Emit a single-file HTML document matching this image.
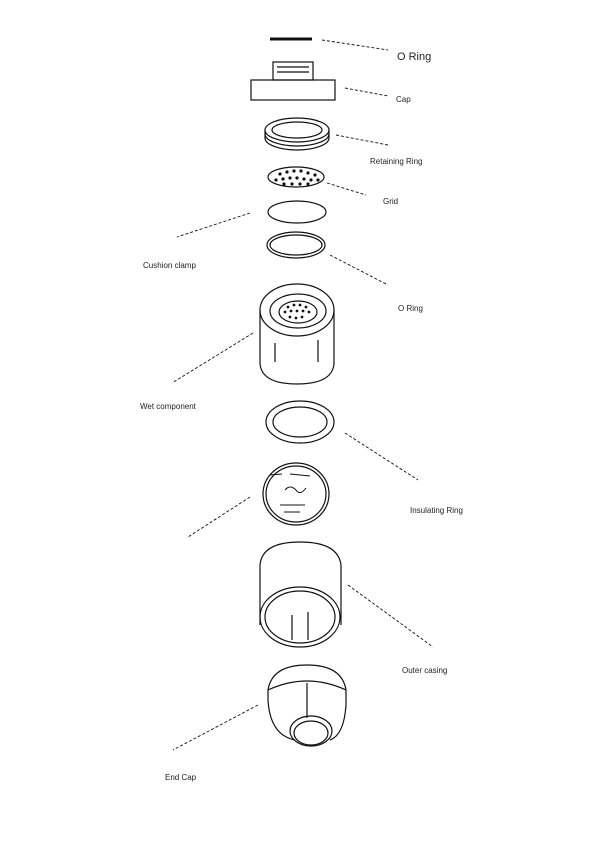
<!DOCTYPE html>
<html><head><style>
html,body{margin:0;padding:0;background:#fff;}
svg{display:block;}
text{font-family:"Liberation Sans",sans-serif;fill:#222;}
</style></head><body>
<svg width="612" height="842" viewBox="0 0 612 842" xmlns="http://www.w3.org/2000/svg">
<g fill="none" stroke="#111" stroke-width="1.2">
<line x1="270" y1="39" x2="312" y2="39" stroke-width="3"/>
<rect x="273" y="62" width="40" height="18"/>
<line x1="277" y1="67" x2="309" y2="67"/>
<line x1="277" y1="72" x2="309" y2="72"/>
<rect x="251" y="80" width="84" height="20"/>
<ellipse cx="297" cy="130" rx="32" ry="12"/>
<ellipse cx="297" cy="130" rx="25" ry="8"/>
<path d="M265 130 L265 138 A32 12 0 0 0 329 138 L329 130"/>
<path d="M265 134 A32 12 0 0 0 329 134"/>
<ellipse cx="296" cy="177" rx="28" ry="10"/>
<ellipse cx="297" cy="212" rx="29" ry="11"/>
<ellipse cx="296" cy="245" rx="29" ry="13"/>
<ellipse cx="296" cy="245" rx="26" ry="10"/>
<ellipse cx="297" cy="310" rx="37" ry="26"/>
<ellipse cx="298" cy="311" rx="28" ry="17"/>
<ellipse cx="298" cy="312" rx="19" ry="11"/>
<path d="M260 310 L260 364 Q262 384 297 384 Q332 384 334 364 L334 310"/>
<line x1="275" y1="343" x2="275" y2="362"/>
<line x1="318" y1="340" x2="318" y2="362"/>
<ellipse cx="300" cy="422" rx="34" ry="21"/>
<ellipse cx="300" cy="422" rx="27" ry="15"/>
<ellipse cx="296" cy="494" rx="33" ry="31"/>
<ellipse cx="296" cy="494" rx="30" ry="28"/>
<path d="M270 475 L282 474 M290 474 L310 476" stroke-width="1"/>
<path d="M285 490 Q290 484 296 490 Q300 496 306 488" stroke-width="1"/>
<path d="M280 505 L305 505 M284 512 L300 512" stroke-width="1"/>
<path d="M260 625 L260 565 Q262 542 300 542 Q338 542 341 565 L341 625"/>
<ellipse cx="300" cy="617" rx="40" ry="30"/>
<ellipse cx="300" cy="617" rx="35" ry="26"/>
<line x1="292" y1="615" x2="292" y2="640"/>
<line x1="308" y1="612" x2="308" y2="640"/>
<path d="M268 700 L268 690 Q272 665 307 665 Q342 665 346 690 L346 705"/>
<path d="M268 700 Q270 735 295 740"/>
<path d="M346 705 Q344 735 330 740"/>
<path d="M268 690 Q307 672 346 690"/>
<line x1="307" y1="683" x2="307" y2="718"/>
<ellipse cx="311" cy="731" rx="21" ry="15"/>
<ellipse cx="311" cy="733" rx="17" ry="12"/>
</g>
<g fill="#111">
<circle cx="280" cy="174" r="1.6"/><circle cx="287" cy="172" r="1.6"/><circle cx="294" cy="171" r="1.6"/><circle cx="301" cy="171" r="1.6"/><circle cx="308" cy="173" r="1.6"/><circle cx="315" cy="175" r="1.6"/>
<circle cx="276" cy="180" r="1.6"/><circle cx="283" cy="179" r="1.6"/><circle cx="290" cy="178" r="1.6"/><circle cx="297" cy="178" r="1.6"/><circle cx="304" cy="179" r="1.6"/><circle cx="311" cy="180" r="1.6"/><circle cx="318" cy="180" r="1.6"/>
<circle cx="284" cy="184" r="1.6"/><circle cx="292" cy="184" r="1.6"/><circle cx="300" cy="184" r="1.6"/><circle cx="308" cy="184" r="1.6"/>
<circle cx="288" cy="307" r="1.4"/><circle cx="294" cy="305" r="1.4"/><circle cx="300" cy="305" r="1.4"/><circle cx="306" cy="307" r="1.4"/>
<circle cx="285" cy="312" r="1.4"/><circle cx="291" cy="311" r="1.4"/><circle cx="297" cy="311" r="1.4"/><circle cx="303" cy="311" r="1.4"/><circle cx="309" cy="312" r="1.4"/>
<circle cx="290" cy="317" r="1.4"/><circle cx="296" cy="318" r="1.4"/><circle cx="302" cy="317" r="1.4"/>
</g>
<g stroke="#111" stroke-width="0.9" stroke-dasharray="3,2" fill="none">
<line x1="322" y1="40" x2="388" y2="50"/>
<line x1="345" y1="88" x2="388" y2="96"/>
<line x1="336" y1="135" x2="388" y2="145"/>
<line x1="327" y1="183" x2="366" y2="195"/>
<line x1="250" y1="213" x2="177" y2="237"/>
<line x1="330" y1="255" x2="388" y2="285"/>
<line x1="253" y1="333" x2="172" y2="383"/>
<line x1="345" y1="433" x2="418" y2="480"/>
<line x1="250" y1="497" x2="188" y2="537"/>
<line x1="348" y1="585" x2="433" y2="647"/>
<line x1="258" y1="705" x2="173" y2="750"/>
</g>
<text x="397" y="60" font-size="11">O Ring</text>
<text x="396" y="102" font-size="8">Cap</text>
<text x="370" y="164" font-size="8">Retaining Ring</text>
<text x="383" y="204" font-size="8">Grid</text>
<text x="143" y="268" font-size="8">Cushion clamp</text>
<text x="398" y="311" font-size="8">O Ring</text>
<text x="140" y="409" font-size="8">Wet component</text>
<text x="410" y="513" font-size="8">Insulating Ring</text>
<text x="402" y="673" font-size="8">Outer casing</text>
<text x="165" y="780" font-size="8">End Cap</text>
</svg>
</body></html>
